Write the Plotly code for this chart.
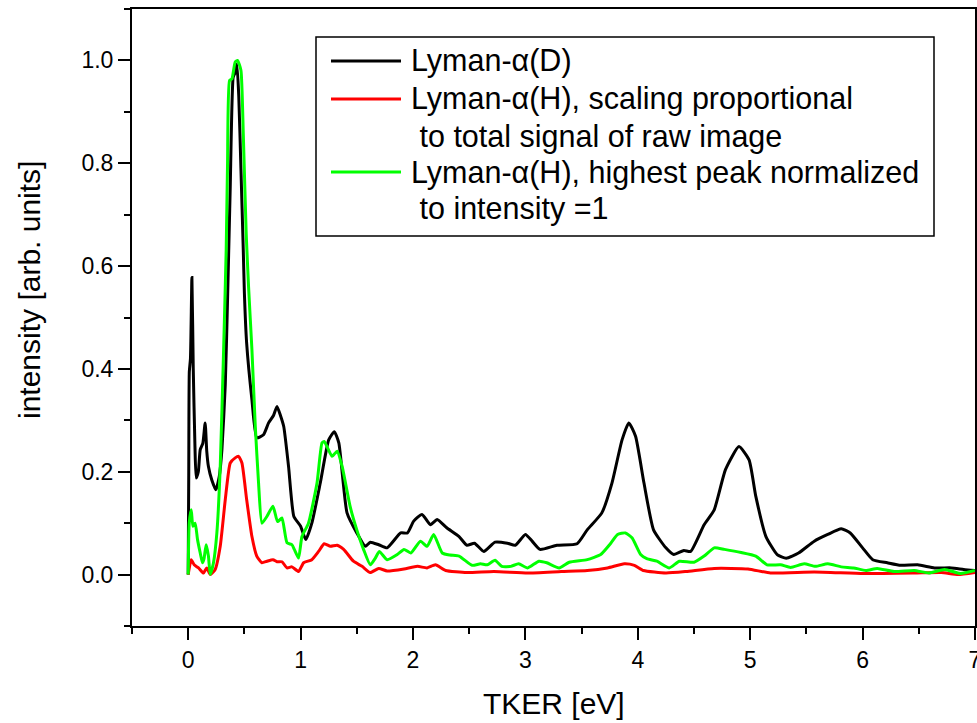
import plotly.graph_objects as go

# ---- data ----
d_x = [0, 0.005, 0.01, 0.02, 0.033, 0.045, 0.06, 0.071, 0.09, 0.107, 0.13, 0.151, 0.165, 0.18, 0.21, 0.246,
       0.276, 0.30, 0.33, 0.35, 0.374, 0.40, 0.415, 0.433, 0.45, 0.469, 0.49, 0.50, 0.52, 0.567, 0.61, 0.67,
       0.715, 0.76, 0.79, 0.82, 0.85, 0.893, 0.94, 1.0, 1.046, 1.10, 1.175, 1.25, 1.30, 1.34, 1.413, 1.50,
       1.576, 1.62, 1.695, 1.77, 1.89, 1.95, 2.006, 2.08, 2.155, 2.215, 2.30, 2.41, 2.48, 2.547, 2.63, 2.73,
       2.84, 2.91, 3.0, 3.06, 3.13, 3.28, 3.46, 3.55, 3.68, 3.77, 3.86, 3.92, 3.98, 4.055, 4.14, 4.25, 4.32,
       4.41, 4.47, 4.59, 4.68, 4.78, 4.90, 4.99, 5.05, 5.14, 5.24, 5.32, 5.43, 5.57, 5.69, 5.81, 5.89, 6.0,
       6.09, 6.22, 6.34, 6.49, 6.64, 6.79, 6.90, 7.0]
d_y = [0, 0.2, 0.395, 0.42, 0.578, 0.40, 0.25, 0.188, 0.20, 0.243, 0.255, 0.295, 0.24, 0.21, 0.184, 0.165,
       0.19, 0.243, 0.37, 0.534, 0.754, 0.967, 0.975, 0.993, 0.93, 0.79, 0.631, 0.547, 0.45, 0.34, 0.266, 0.272,
       0.295, 0.31, 0.327, 0.31, 0.288, 0.21, 0.113, 0.094, 0.068, 0.10, 0.178, 0.262, 0.278, 0.256, 0.12, 0.081,
       0.055, 0.063, 0.058, 0.052, 0.081, 0.081, 0.104, 0.117, 0.097, 0.107, 0.091, 0.074, 0.057, 0.061, 0.045, 0.063,
       0.061, 0.057, 0.078, 0.065, 0.049, 0.057, 0.060, 0.087, 0.120, 0.178, 0.262, 0.295, 0.269, 0.178, 0.087, 0.052, 0.039,
       0.047, 0.045, 0.097, 0.126, 0.204, 0.249, 0.223, 0.152, 0.074, 0.039, 0.032, 0.042, 0.065, 0.078, 0.089, 0.081, 0.052,
       0.029, 0.023, 0.018, 0.019, 0.013, 0.013, 0.010, 0.008]

hs_x = [0, 0.027, 0.053, 0.092, 0.136, 0.165, 0.196, 0.24, 0.285, 0.33, 0.374, 0.418, 0.448, 0.478, 0.52, 0.567,
        0.61, 0.656, 0.70, 0.754, 0.79, 0.834, 0.879, 0.923, 0.982, 1.027, 1.10, 1.16, 1.21, 1.265, 1.325, 1.383,
        1.47, 1.547, 1.62, 1.695, 1.77, 1.92, 2.04, 2.125, 2.20, 2.29, 2.48, 2.72, 3.02, 3.32, 3.55, 3.73, 3.88,
        3.97, 4.05, 4.25, 4.43, 4.68, 4.98, 5.18, 5.57, 6.01, 6.46, 6.70, 6.85, 7.0]
hs_y = [0, 0.029, 0.019, 0.013, 0.003, 0.013, 0.0, 0.010, 0.055, 0.146, 0.217, 0.227, 0.230, 0.217, 0.146, 0.074,
        0.036, 0.023, 0.026, 0.029, 0.025, 0.025, 0.013, 0.015, 0.006, 0.023, 0.029, 0.045, 0.060, 0.055, 0.057, 0.049,
        0.026, 0.016, 0.004, 0.012, 0.007, 0.011, 0.016, 0.013, 0.019, 0.008, 0.004, 0.006, 0.003, 0.006, 0.008, 0.013, 0.021,
        0.018, 0.008, 0.003, 0.006, 0.012, 0.011, 0.003, 0.005, 0.002, 0.003, 0.004, 0.0, 0.004]

hn_x = [0, 0.009, 0.027, 0.042, 0.062, 0.083, 0.107, 0.127, 0.14, 0.16, 0.18, 0.196, 0.225, 0.255, 0.285, 0.315,
        0.338, 0.35, 0.368, 0.389, 0.418, 0.439, 0.469, 0.49, 0.516, 0.537, 0.567, 0.597, 0.626, 0.656, 0.70, 0.754,
        0.795, 0.834, 0.879, 0.923, 0.944, 0.982, 1.012, 1.07, 1.146, 1.19, 1.21, 1.28, 1.325, 1.37, 1.44, 1.50,
        1.56, 1.62, 1.665, 1.70, 1.77, 1.86, 1.92, 1.98, 2.066, 2.125, 2.184, 2.26, 2.33, 2.41, 2.526, 2.60, 2.66,
        2.73, 2.79, 2.87, 2.94, 3.02, 3.12, 3.19, 3.30, 3.39, 3.55, 3.67, 3.76, 3.82, 3.89, 3.95, 4.025, 4.08, 4.17,
        4.28, 4.37, 4.50, 4.59, 4.68, 4.77, 4.92, 5.05, 5.15, 5.27, 5.36, 5.48, 5.58, 5.69, 5.81, 5.92, 6.03, 6.13,
        6.28, 6.46, 6.59, 6.73, 6.87, 7.0]
hn_y = [0, 0.10, 0.126, 0.094, 0.10, 0.068, 0.042, 0.023, 0.03, 0.058, 0.036, 0.0, 0.023, 0.081, 0.21, 0.437,
        0.631, 0.80, 0.961, 0.964, 0.997, 1.0, 0.981, 0.858, 0.663, 0.56, 0.437, 0.288, 0.178, 0.10, 0.113, 0.133,
        0.103, 0.11, 0.062, 0.058, 0.049, 0.032, 0.074, 0.10, 0.178, 0.256, 0.259, 0.23, 0.24, 0.21, 0.133, 0.087,
        0.049, 0.019, 0.032, 0.045, 0.029, 0.039, 0.049, 0.042, 0.065, 0.055, 0.078, 0.042, 0.038, 0.036, 0.018, 0.021, 0.019,
        0.028, 0.016, 0.016, 0.021, 0.013, 0.026, 0.023, 0.013, 0.024, 0.029, 0.039, 0.061, 0.078, 0.081, 0.071, 0.039, 0.031, 0.026,
        0.013, 0.026, 0.024, 0.036, 0.052, 0.049, 0.043, 0.036, 0.019, 0.019, 0.014, 0.021, 0.016, 0.021, 0.015, 0.013, 0.008, 0.012,
        0.006, 0.008, 0.003, 0.010, 0.002, 0.008]

names = ["Lyman-α(D)",
         "Lyman-α(H), scaling proportional",
         " to total signal of raw image",
         "Lyman-α(H), highest peak normalized",
         " to intensity =1"]
colors = ["#000000", "#ff0000", "#00ff00"]
x_ticks = [0, 1, 2, 3, 4, 5, 6, 7]
y_ticks = [0.0, 0.2, 0.4, 0.6, 0.8, 1.0]
x_title = "TKER [eV]"
y_title = "intensity [arb. units]"

FONT = "Liberation Sans, Arial, sans-serif"
W, H = 977, 723
ML, MR, MT, MB = 132, 2, 9, 97
PW, PH = W - ML - MR, H - MT - MB
LW = 3


def px(xp):
    return (xp - ML) / PW


def py(yp):
    return (H - MB - yp) / PH


fig = go.Figure()
fig.add_trace(go.Scatter(x=d_x, y=d_y, mode="lines", name=names[0], showlegend=False,
                         line=dict(color=colors[0], width=LW, shape="spline", smoothing=0.5)))
fig.add_trace(go.Scatter(x=hs_x, y=hs_y, mode="lines", name=names[1], showlegend=False,
                         line=dict(color=colors[1], width=LW, shape="spline", smoothing=0.5)))
fig.add_trace(go.Scatter(x=hn_x, y=hn_y, mode="lines", name=names[3], showlegend=False,
                         line=dict(color=colors[2], width=LW, shape="spline", smoothing=0.5)))

# legend drawn as a framed box
shapes = [dict(type="rect", xref="paper", yref="paper", x0=px(316), x1=px(934), y0=py(236), y1=py(37),
               line=dict(color="black", width=1.5), fillcolor="white", layer="above")]
annotations = []
rows = [(61, 0, True), (99, 1, True), (136, 2, False), (172, 3, True), (208, 4, False)]
line_colors = {0: colors[0], 1: colors[1], 3: colors[2]}
for yrow, idx, has_line in rows:
    if has_line:
        shapes.append(dict(type="line", xref="paper", yref="paper", x0=px(331), x1=px(401),
                           y0=py(yrow), y1=py(yrow), line=dict(color=line_colors[idx], width=LW),
                           layer="above"))
    annotations.append(dict(xref="paper", yref="paper", x=px(409), y=py(yrow), text=names[idx],
                            showarrow=False, xanchor="left", yanchor="middle",
                            font=dict(family=FONT, size=30.5, color="black")))

# axis titles
annotations.append(dict(xref="paper", yref="paper", x=px(554), y=py(703), text=x_title, showarrow=False,
                        xanchor="center", yanchor="middle", font=dict(family=FONT, size=30, color="black")))
annotations.append(dict(xref="paper", yref="paper", x=px(29), y=py(290), text=y_title, showarrow=False,
                        textangle=-90, xanchor="center", yanchor="middle",
                        font=dict(family=FONT, size=30, color="black")))

fig.update_layout(
    width=W, height=H,
    margin=dict(l=ML, r=MR, t=MT, b=MB, autoexpand=False),
    paper_bgcolor="white", plot_bgcolor="white",
    font=dict(family=FONT, color="black"),
    shapes=shapes, annotations=annotations,
)
fig.update_xaxes(range=[-0.5, 7], tickvals=x_ticks, ticktext=[str(v) for v in x_ticks],
                 showgrid=False, zeroline=False, showline=True, linecolor="black", linewidth=2,
                 mirror=True, ticks="outside", ticklen=12, tickwidth=2, tickcolor="black",
                 ticklabeloverflow="allow", automargin=False,
                 minor=dict(dtick=0.5, tick0=0, ticks="outside", ticklen=6, tickwidth=2, tickcolor="black"),
                 tickfont=dict(family=FONT, size=23))
fig.update_yaxes(range=[-0.1, 1.1], tickvals=y_ticks, ticktext=["%.1f" % v for v in y_ticks],
                 showgrid=False, zeroline=False, showline=True, linecolor="black", linewidth=2,
                 mirror=True, ticks="outside", ticklen=12, tickwidth=2, tickcolor="black",
                 automargin=False,
                 minor=dict(dtick=0.1, tick0=0, ticks="outside", ticklen=6, tickwidth=2, tickcolor="black"),
                 tickfont=dict(family=FONT, size=23))

fig.write_html("out.html")
